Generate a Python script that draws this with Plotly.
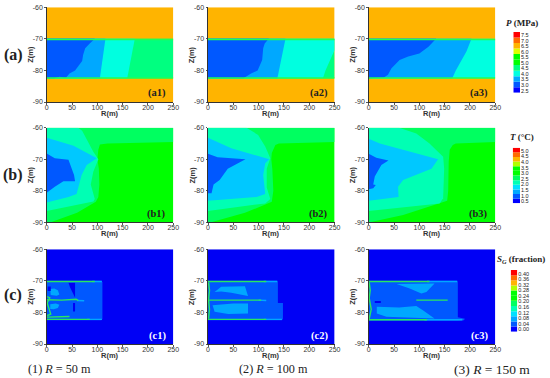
import plotly.graph_objects as go

W, H = 550, 378
SANS = "Liberation Sans"
SERIF = "Liberation Serif"

# ---- palette of the contour bands
ORANGE = "#ffb400"
DEEP = "#0000f5"
BLUE = "#0058ff"
SKY = "#00a8ff"
AQUA = "#00c8ff"
CYAN = "#00ffe0"
SPRING = "#00ff80"
GREEN = "#00ff00"
LEAF = "#00ff60"
MINT = "#00ffb4"
STREAK = "#28e860"

# ---- tick labels
R_TICKS = [0, 50, 100, 150, 200, 250]
Z_TICKS = [-60, -70, -80, -90]

# ---- full domain / reservoir layer
DOMAIN_R = [0, 250, 250, 0]
DOMAIN_Z = [-60, -60, -90, -90]
LAYER_R = [0, 250, 250, 0]
LAYER_Z = [-70, -70, -82.5, -82.5]

# ---- pressure, R = 50 m
A1_BLUE_R = [0, 95, 85, 76, 72, 70, 63, 56, 45, 38, 25, 15, 0]
A1_BLUE_Z = [-70, -70, -71.5, -73, -75, -77, -78.5, -80, -81, -82.3, -82, -82.5, -82.5]
A1_SKY_R = [0, 116, 105, 0]
A1_SKY_Z = [-70, -70, -82.5, -82.5]
A1_CYAN_R = [0, 174, 159, 0]
A1_CYAN_Z = [-70, -70, -82.5, -82.5]

# ---- pressure, R = 100 m
A2_BLUE_R = [0, 120, 112, 109, 107, 98, 85, 73, 70, 0]
A2_BLUE_Z = [-70, -70, -71.5, -73, -76.7, -80, -81, -82, -82.5, -82.5]
A2_SKY_R = [0, 153, 137, 0]
A2_SKY_Z = [-70, -70, -82.5, -82.5]
A2_CYAN_R = [0, 250, 250, 240, 232, 227, 0]
A2_CYAN_Z = [-70, -70, -73.5, -77, -80, -82.5, -82.5]

# ---- pressure, R = 150 m
A3_BLUE_R = [0, 133, 118, 100, 78, 61, 45, 38, 30, 0]
A3_BLUE_Z = [-70, -70, -72.5, -74.6, -75.6, -76.7, -79.3, -81.4, -82.2, -82.5]
A3_SKY_R = [0, 203, 193, 182, 172, 165, 0]
A3_SKY_Z = [-70, -70, -74, -77, -80, -82.5, -82.5]

# ---- temperature, R = 50 m
B1_LEAF_R = [0, 250, 250, 120, 105, 102, 100, 103, 104, 102, 97, 60, 8, 0]
B1_LEAF_Z = [-60, -60, -64.5, -65, -65.3, -67, -70, -73, -78, -82, -83.5, -87, -90, -90]
B1_MINT_R = [0, 62, 70, 78, 82, 92, 102, 92, 87, 95, 92, 0]
B1_MINT_Z = [-60, -60, -61, -63.5, -64.4, -67.6, -70, -74, -78, -82.6, -83.4, -86.4]
B1_AQUA_R = [0, 53, 99, 79, 69, 66, 59, 43, 0]
B1_AQUA_Z = [-63.2, -65.7, -69.7, -71.8, -75, -77, -81, -82, -83.7]
B1_BLUE_R = [0, 16, 43, 54, 56, 33, 16, 0]
B1_BLUE_Z = [-68.2, -69.7, -70.2, -75, -77, -77, -78.7, -80.6]

# ---- temperature, R = 100 m
B2_LEAF_R = [0, 250, 250, 140, 133, 126, 125, 127, 129, 126, 73, 6, 0]
B2_LEAF_Z = [-60, -60, -64.5, -65, -65.5, -68, -70, -73, -80, -83.5, -87, -90, -90]
B2_MINT_R = [0, 76, 99, 113, 123, 116, 116, 123, 113, 0]
B2_MINT_Z = [-60, -60, -62.3, -66, -69.7, -73, -79, -82.6, -84, -86.4]
B2_AQUA_R = [0, 46, 121, 113, 109, 113, 96, 0]
B2_AQUA_Z = [-63.2, -66.5, -70, -71.3, -75, -81, -82, -83.2]
B2_BLUE_R = [0, 19, 74, 39, 23, 11, 7, 0]
B2_BLUE_Z = [-68.3, -69.4, -70, -73, -76.6, -78, -80.8, -80.8]

# ---- temperature, R = 150 m
B3_LEAF_R = [0, 250, 250, 172, 166, 160, 158, 157, 155, 68, 2, 0]
B3_LEAF_Z = [-60, -60, -64.5, -65, -65.5, -67, -70.8, -80, -83.2, -87.7, -90, -90]
B3_MINT_R = [0, 60, 94, 120, 147, 149, 147, 140, 0]
B3_MINT_Z = [-60, -60, -61.8, -65, -69.2, -73, -82.4, -84, -86.4]
B3_AQUA_R = [0, 22, 137, 124, 68, 58, 59, 0]
B3_AQUA_Z = [-63.5, -65, -70, -73, -76.6, -78.7, -82, -83.2]
B3_BLUE_R = [0, 15, 39, 25, 12, 9, 14, 9, 0]
B3_BLUE_Z = [-68.3, -69.5, -70.4, -71.8, -75.5, -78, -78.2, -79.2, -79.5]

# ---- gas saturation, R = 50 m
C1_BAND_R = [0, 108, 110, 110, 108, 0]
C1_BAND_Z = [-70, -70, -70.5, -82, -82.5, -82.5]
C1_UP_R = [7, 15, 22, 25, 20, 8]
C1_UP_Z = [-72.6, -72.4, -73, -74.3, -74.7, -74.5]
C1_LOW_R = [7, 18, 25, 22, 14, 7]
C1_LOW_Z = [-77.4, -77.2, -77.6, -78.6, -79, -78.9]
C1_DEEP1_R = [43, 56, 56, 50, 46]
C1_DEEP1_Z = [-70.6, -70.6, -75.3, -73.5, -72]
C1_DEEP2_R = [52, 56, 56, 52]
C1_DEEP2_Z = [-77, -77, -79.7, -79.7]
C1_DEEP3_R = [2, 8, 8, 2]
C1_DEEP3_Z = [-71.8, -71.8, -73.2, -73.2]
C1_MID_R = [0, 30, 58, 62]
C1_MID_Z = [-76, -76.1, -75.8, -76.2]
C1_TAIL_R = [60, 74]
C1_TAIL_Z = [-76.2, -76.3]
C1_TOP_R = [0, 95]
C1_TOP_Z = [-70.2, -70.2]
C1_TOPEND_R = [90, 109]
C1_TOPEND_Z = [-70.2, -70.2]
C1_BOT1_R = [0, 85]
C1_BOT1_Z = [-82.2, -82.2]
C1_BOTEND_R = [80, 109]
C1_BOTEND_Z = [-82.2, -82.2]
C1_BOT2_R = [0, 45]
C1_BOT2_Z = [-81.5, -81.3]
C1_LEFT_R = [1, 6, 1, 8, 1]
C1_LEFT_Z = [-75, -75.4, -77, -80.5, -81]

# ---- gas saturation, R = 100 m
C2_BAND_R = [0, 136, 138, 138, 148, 148, 146, 0]
C2_BAND_Z = [-70, -70, -70.5, -77, -77, -82, -82.5, -82.5]
C2_UP_R = [13, 26, 73, 79, 46, 26]
C2_UP_Z = [-73.5, -71.9, -71.7, -74.8, -73.8, -73.4]
C2_LOW_R = [9, 50, 79, 79, 40, 13]
C2_LOW_Z = [-77.7, -77.2, -77.2, -80.3, -80.5, -79.8]
C2_MID_R = [0, 60, 105]
C2_MID_Z = [-76.1, -76.1, -76.1]
C2_TAIL_R = [100, 115]
C2_TAIL_Z = [-76.1, -76.2]
C2_TOP_R = [0, 115]
C2_TOP_Z = [-70.2, -70.2]
C2_TOPEND_R = [110, 137]
C2_TOPEND_Z = [-70.2, -70.2]
C2_BOT_R = [0, 115]
C2_BOT_Z = [-82.2, -82.2]
C2_BOTEND_R = [110, 146]
C2_BOTEND_Z = [-82.2, -82.2]
C2_LEFT_R = [1, 3, 1, 3, 1]
C2_LEFT_Z = [-70.5, -73, -76, -79, -82]

# ---- gas saturation, R = 150 m
C3_BAND_R = [0, 174, 176, 176, 190, 188, 176, 0]
C3_BAND_Z = [-70, -70, -70.5, -81.5, -82, -82.5, -82.6, -82.6]
C3_UP_R = [55, 130, 114, 104, 81]
C3_UP_Z = [-71, -70.8, -73.5, -74, -72.4]
C3_LOW_R = [16, 60, 94, 107, 130, 35, 16]
C3_LOW_Z = [-78.2, -78.4, -78, -79.3, -81.9, -81.4, -80.3]
C3_MID_R = [94, 156]
C3_MID_Z = [-76.1, -76.1]
C3_TOP_R = [0, 120]
C3_TOP_Z = [-70.2, -70.2]
C3_TOPEND_R = [115, 175]
C3_TOPEND_Z = [-70.2, -70.2]
C3_BOT_R = [0, 115]
C3_BOT_Z = [-82.3, -82.3]
C3_BOTEND_R = [110, 185]
C3_BOTEND_Z = [-82.3, -82.3]
C3_LEFT_R = [1, 3, 1, 5, 1]
C3_LEFT_Z = [-70.5, -73, -75.5, -79, -82]
C3_DEEP_R = [12, 24, 24, 12]
C3_DEEP_Z = [-76.4, -76.4, -77, -77]

# ---- colour keys
P_LEVELS = [7.5, 7.0, 6.5, 6.0, 5.5, 5.0, 4.5, 4.0, 3.5, 3.0, 2.5]
T_LEVELS = [5.0, 4.5, 4.0, 3.5, 3.0, 2.5, 2.0, 1.5, 1.0, 0.5]
S_LEVELS = [0.40, 0.36, 0.32, 0.28, 0.24, 0.20, 0.16, 0.12, 0.08, 0.04, 0.00]
P_COLORS = ["#0000ff", "#0058ff", "#00a8ff", "#00ffe0", "#00ff80", "#00ff00",
            "#00ff00", "#e0ff00", "#ffb400", "#ff6a00", "#ff0000"]
T_COLORS = ["#0000ff", "#0058ff", "#00a8ff", "#00e0ff", "#00ffb4", "#00ff60",
            "#00ff00", "#00ff00", "#b0ff00", "#ffb400", "#ff6a00", "#ff0000"]
S_COLORS = ["#0000ff", "#0058ff", "#00a8ff", "#00e0ff", "#00ffb4", "#00ff60",
            "#00ff00", "#00ff00", "#b0ff00", "#ffb400", "#ff6a00", "#ff0000"]

# ---- panel frames (pixels of the 550x378 page)
PANEL_X = {1: (46.7, 173.3), 2: (208.0, 334.6), 3: (368.7, 495.3)}
PANEL_Y = {"a": (7.3, 102.0), "b": (127.7, 222.3), "c": (249.3, 344.0)}

fig = go.Figure()
layout = {}
axis_no = {"n": 0}
notes = []


def dom_x(a, b):
    return [a / W, b / W]


def dom_y(a, b):
    return [1 - b / H, 1 - a / H]


def note(text, px, py, size, family=SERIF, color="#222", xanchor="center", angle=0):
    notes.append(dict(text=text, x=px / W, y=1 - py / H, xref="paper", yref="paper",
                      xanchor=xanchor, yanchor="middle", showarrow=False, textangle=angle,
                      font=dict(family=family, size=size, color=color)))


def new_panel(row, col):
    axis_no["n"] += 1
    n = axis_no["n"]
    sx = "" if n == 1 else str(n)
    common = dict(ticks="outside", ticklen=1.5, tickwidth=0.7, tickcolor="#555", automargin=False,
                  showline=True, linecolor="#333", linewidth=1, showgrid=False, zeroline=False,
                  tickfont=dict(family=SANS, size=7, color="#333"))
    left, right = PANEL_X[col]
    top, bottom = PANEL_Y[row]
    layout["xaxis" + sx] = dict(domain=dom_x(left, right), range=[0, 250], tickvals=R_TICKS,
                                ticklabelstandoff=-3, anchor="y" + sx, **common)
    layout["yaxis" + sx] = dict(domain=dom_y(top, bottom), range=[-90, -60], tickvals=Z_TICKS,
                                ticktext=[str(v) for v in Z_TICKS], anchor="x" + sx, **common)
    note("<b>R(m)</b>", (left + right) / 2, bottom + 11, 7.5, family=SANS, color="#333")
    note("<b>Z(m)</b>", left - 16.5, (top + bottom) / 2, 7.5, family=SANS, color="#333", angle=-90)
    return ("x" + sx, "y" + sx)


def patch(ax, r, z, color):
    fig.add_trace(go.Scatter(x=r, y=z, xaxis=ax[0], yaxis=ax[1], mode="lines", fill="toself",
                             fillcolor=color, line=dict(width=0, color=color),
                             hoverinfo="skip", showlegend=False))


def line(ax, r, z, color=STREAK, width=1.4):
    fig.add_trace(go.Scatter(x=r, y=z, xaxis=ax[0], yaxis=ax[1], mode="lines",
                             line=dict(width=width, color=color),
                             hoverinfo="skip", showlegend=False))


EDGE_R = [0, 250]
EDGE_TOP_Z = [-70.2, -70.2]
EDGE_BOT_Z = [-82.4, -82.4]
EDGE_COLOR = "#20ff50"

# a row
ax = new_panel("a", 1)
patch(ax, DOMAIN_R, DOMAIN_Z, ORANGE)
patch(ax, LAYER_R, LAYER_Z, SPRING)
patch(ax, A1_CYAN_R, A1_CYAN_Z, CYAN)
patch(ax, A1_SKY_R, A1_SKY_Z, SKY)
patch(ax, A1_BLUE_R, A1_BLUE_Z, BLUE)
line(ax, EDGE_R, EDGE_TOP_Z, EDGE_COLOR)
line(ax, EDGE_R, EDGE_BOT_Z, EDGE_COLOR)

ax = new_panel("a", 2)
patch(ax, DOMAIN_R, DOMAIN_Z, ORANGE)
patch(ax, LAYER_R, LAYER_Z, SPRING)
patch(ax, A2_CYAN_R, A2_CYAN_Z, CYAN)
patch(ax, A2_SKY_R, A2_SKY_Z, SKY)
patch(ax, A2_BLUE_R, A2_BLUE_Z, BLUE)
line(ax, EDGE_R, EDGE_TOP_Z, EDGE_COLOR)
line(ax, EDGE_R, EDGE_BOT_Z, EDGE_COLOR)

ax = new_panel("a", 3)
patch(ax, DOMAIN_R, DOMAIN_Z, ORANGE)
patch(ax, LAYER_R, LAYER_Z, CYAN)
patch(ax, A3_SKY_R, A3_SKY_Z, SKY)
patch(ax, A3_BLUE_R, A3_BLUE_Z, BLUE)
line(ax, EDGE_R, EDGE_TOP_Z, EDGE_COLOR)
line(ax, EDGE_R, EDGE_BOT_Z, EDGE_COLOR)

# b row
ax = new_panel("b", 1)
patch(ax, DOMAIN_R, DOMAIN_Z, GREEN)
patch(ax, B1_LEAF_R, B1_LEAF_Z, LEAF)
patch(ax, B1_MINT_R, B1_MINT_Z, MINT)
patch(ax, B1_AQUA_R, B1_AQUA_Z, AQUA)
patch(ax, B1_BLUE_R, B1_BLUE_Z, BLUE)

ax = new_panel("b", 2)
patch(ax, DOMAIN_R, DOMAIN_Z, GREEN)
patch(ax, B2_LEAF_R, B2_LEAF_Z, LEAF)
patch(ax, B2_MINT_R, B2_MINT_Z, MINT)
patch(ax, B2_AQUA_R, B2_AQUA_Z, AQUA)
patch(ax, B2_BLUE_R, B2_BLUE_Z, BLUE)

ax = new_panel("b", 3)
patch(ax, DOMAIN_R, DOMAIN_Z, GREEN)
patch(ax, B3_LEAF_R, B3_LEAF_Z, LEAF)
patch(ax, B3_MINT_R, B3_MINT_Z, MINT)
patch(ax, B3_AQUA_R, B3_AQUA_Z, AQUA)
patch(ax, B3_BLUE_R, B3_BLUE_Z, BLUE)

# c row
ax = new_panel("c", 1)
patch(ax, DOMAIN_R, DOMAIN_Z, DEEP)
patch(ax, C1_BAND_R, C1_BAND_Z, BLUE)
patch(ax, C1_UP_R, C1_UP_Z, SKY)
patch(ax, C1_LOW_R, C1_LOW_Z, SKY)
patch(ax, C1_DEEP1_R, C1_DEEP1_Z, DEEP)
patch(ax, C1_DEEP2_R, C1_DEEP2_Z, DEEP)
patch(ax, C1_DEEP3_R, C1_DEEP3_Z, DEEP)
line(ax, C1_TAIL_R, C1_TAIL_Z, SKY)
line(ax, C1_TOPEND_R, C1_TOPEND_Z, SKY)
line(ax, C1_BOTEND_R, C1_BOTEND_Z, SKY)
line(ax, C1_MID_R, C1_MID_Z)
line(ax, C1_TOP_R, C1_TOP_Z)
line(ax, C1_BOT1_R, C1_BOT1_Z)
line(ax, C1_BOT2_R, C1_BOT2_Z)
line(ax, C1_LEFT_R, C1_LEFT_Z)

ax = new_panel("c", 2)
patch(ax, DOMAIN_R, DOMAIN_Z, DEEP)
patch(ax, C2_BAND_R, C2_BAND_Z, BLUE)
patch(ax, C2_UP_R, C2_UP_Z, SKY)
patch(ax, C2_LOW_R, C2_LOW_Z, SKY)
line(ax, C2_TAIL_R, C2_TAIL_Z, SKY)
line(ax, C2_TOPEND_R, C2_TOPEND_Z, SKY)
line(ax, C2_BOTEND_R, C2_BOTEND_Z, SKY)
line(ax, C2_MID_R, C2_MID_Z)
line(ax, C2_TOP_R, C2_TOP_Z)
line(ax, C2_BOT_R, C2_BOT_Z)
line(ax, C2_LEFT_R, C2_LEFT_Z)

ax = new_panel("c", 3)
patch(ax, DOMAIN_R, DOMAIN_Z, DEEP)
patch(ax, C3_BAND_R, C3_BAND_Z, BLUE)
patch(ax, C3_UP_R, C3_UP_Z, SKY)
patch(ax, C3_LOW_R, C3_LOW_Z, SKY)
patch(ax, C3_DEEP_R, C3_DEEP_Z, DEEP)
line(ax, C3_TOPEND_R, C3_TOPEND_Z, SKY)
line(ax, C3_BOTEND_R, C3_BOTEND_Z, SKY)
line(ax, C3_MID_R, C3_MID_Z)
line(ax, C3_TOP_R, C3_TOP_Z)
line(ax, C3_BOT_R, C3_BOT_Z)
line(ax, C3_LEFT_R, C3_LEFT_Z)


def key(levels, colors, fmt, bar_x, bar_y, first_px, last_px):
    axis_no["n"] += 1
    n = str(axis_no["n"])
    hi, lo = levels[0], levels[-1]
    per_px = (hi - lo) / (last_px - first_px)
    top = hi + (first_px - bar_y[0]) * per_px
    bottom = lo - (bar_y[1] - last_px) * per_px
    step = (top - bottom) / len(colors)
    bases = [bottom + i * step for i in range(len(colors))]
    fig.add_trace(go.Bar(x=[0] * len(colors), y=[step] * len(colors), base=bases, width=1,
                         marker=dict(color=colors, line=dict(width=0)),
                         xaxis="x" + n, yaxis="y" + n, hoverinfo="skip", showlegend=False))
    layout["xaxis" + n] = dict(domain=dom_x(*bar_x), range=[-0.5, 0.5], anchor="y" + n,
                               automargin=False, showticklabels=False, ticks="",
                               showgrid=False, zeroline=False)
    layout["yaxis" + n] = dict(domain=dom_y(*bar_y), range=[bottom, top], anchor="x" + n,
                               automargin=False, side="right", tickvals=levels,
                               ticktext=[fmt % v for v in levels],
                               ticks="", showgrid=False, zeroline=False,
                               tickfont=dict(family=SANS, size=5.5, color="#222"))


key(P_LEVELS, P_COLORS, "%.1f", (513.3, 520.0), (32.0, 92.7), 35.0, 90.7)
key(T_LEVELS, T_COLORS, "%.1f", (512.7, 520.0), (147.7, 203.3), 150.7, 201.3)
key(S_LEVELS, S_COLORS, "%.2f", (510.7, 517.3), (270.0, 331.7), 273.7, 329.3)

for label, py in (("(a)", 55), ("(b)", 175), ("(c)", 295)):
    note("<b>%s</b>" % label, 13, py, 16)
for label, col, py, colr in (("(a1)", 1, 93.5, "#222"), ("(a2)", 2, 93.5, "#222"), ("(a3)", 3, 93.5, "#222"),
                             ("(b1)", 1, 214, "#222"), ("(b2)", 2, 214, "#222"), ("(b3)", 3, 214, "#222"),
                             ("(c1)", 1, 336, "#fff"), ("(c2)", 2, 336, "#fff"), ("(c3)", 3, 336, "#fff")):
    note("<b>%s</b>" % label, PANEL_X[col][1] - 5, py, 10.5, color=colr, xanchor="right")
note("<b><i>P</i> (MPa)</b>", 522, 22.7, 9)
note("<b><i>T</i> (°C)</b>", 522, 137, 9)
note("<b><i>S<sub>G</sub></i> (fraction)</b>", 521, 259, 9)
note("(1) <i>R</i> = 50 m", 26, 369, 12.2, xanchor="left")
note("(2) <i>R</i> = 100 m", 237, 369, 12.2, xanchor="left")
note("(3) <i>R</i> = 150 m", 452, 369, 13.5, xanchor="left")

fig.update_layout(width=W, height=H, margin=dict(l=0, r=0, t=0, b=0), autosize=False,
                  paper_bgcolor="white", plot_bgcolor="white", annotations=notes,
                  showlegend=False, **layout)
fig.write_html("out.html", config={"displayModeBar": False},
               post_script="document.body.style.margin='0';document.documentElement.style.overflow='hidden';")
